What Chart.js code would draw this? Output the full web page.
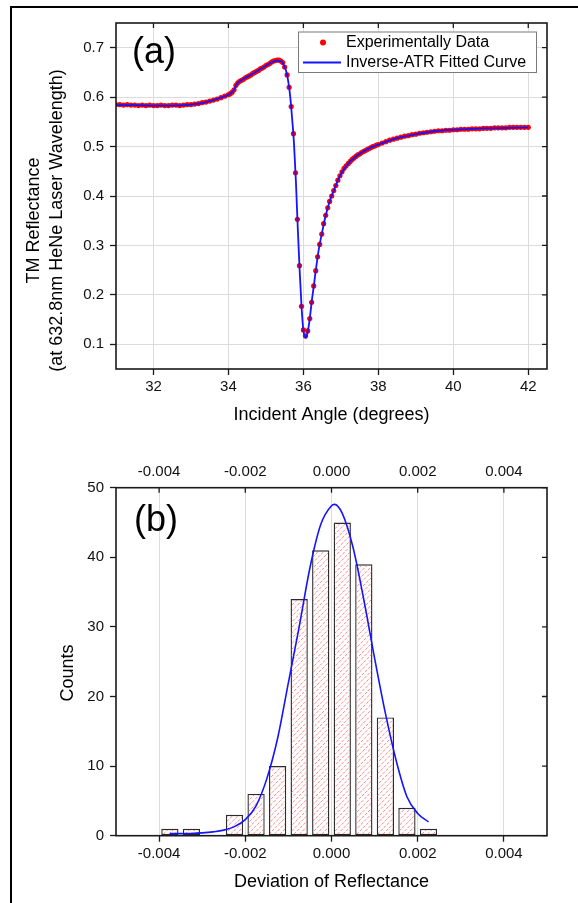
<!DOCTYPE html>
<html>
<head>
<meta charset="utf-8">
<script src="https://cdn.jsdelivr.net/npm/chart.js@4.4.0/dist/chart.umd.min.js"></script>
<style>
    html, body { margin: 0; padding: 0; background: #fff; overflow: hidden; }
    #page  { position: relative; width: 578px; height: 903px; }
    #frame { position: absolute; left: 10px; top: 6px; width: 600px; height: 950px;
             border-top: 2px solid #000; border-left: 2px solid #000; }
    #boxA  { position: absolute; left: 0; top: 0; width: 578px; height: 440px; }
    #boxB  { position: absolute; left: 0; top: 440px; width: 578px; height: 463px; }
    canvas { display: block; }
</style>
</head>
<body>
<div id="page">
    <div id="frame"></div>
    <div id="boxA"><canvas id="chartA" width="578" height="440"></canvas></div>
    <div id="boxB"><canvas id="chartB" width="578" height="463"></canvas></div>
</div>
<script>
/* ============================================================
   (a) TM 反射率 vs 入射角   (b) 偏差直方图
   ============================================================ */

// ---------- (a) 实验数据点 ----------
var expAngle = [
    31.0, 31.1, 31.2, 31.3, 31.4, 31.5, 31.6, 31.7, 31.8, 31.9,
    32.0, 32.1, 32.2, 32.3, 32.4, 32.5, 32.6, 32.7, 32.8, 32.9,
    33.0, 33.1, 33.2, 33.3, 33.4, 33.5, 33.6, 33.7, 33.8, 33.9,
    34.0, 34.05, 34.1, 34.15, 34.2, 34.25, 34.3, 34.35, 34.4, 34.45,
    34.5, 34.55, 34.6, 34.65, 34.7, 34.75, 34.8, 34.85, 34.9, 34.95,
    35.0, 35.05, 35.1, 35.15, 35.2, 35.25, 35.3, 35.35, 35.4, 35.45,
    35.5, 35.565, 35.62, 35.675, 35.735, 35.79, 35.84, 35.895, 35.95, 36.0,
    36.055, 36.115, 36.17, 36.22, 36.275, 36.33, 36.38, 36.435, 36.49, 36.54,
    36.595, 36.65, 36.7, 36.755, 36.81, 36.865, 36.92, 36.975, 37.03, 37.085,
    37.14, 37.2, 37.25, 37.3, 37.35, 37.4, 37.45, 37.5, 37.55, 37.6,
    37.65, 37.7, 37.75, 37.8, 37.85, 37.9, 37.95, 38.0, 38.1, 38.2,
    38.3, 38.4, 38.5, 38.6, 38.7, 38.8, 38.9, 39.0, 39.1, 39.2,
    39.3, 39.4, 39.5, 39.6, 39.7, 39.8, 39.9, 40.0, 40.1, 40.2,
    40.3, 40.4, 40.5, 40.6, 40.7, 40.8, 40.9, 41.0, 41.1, 41.2,
    41.3, 41.4, 41.5, 41.6, 41.7, 41.8, 41.9, 42.0
];
var expRefl = [
    0.585, 0.585, 0.584, 0.585, 0.584, 0.584, 0.583, 0.584, 0.583, 0.584,
    0.583, 0.583, 0.584, 0.583, 0.583, 0.584, 0.584, 0.583, 0.584, 0.585,
    0.585, 0.586, 0.587, 0.589, 0.590, 0.592, 0.594, 0.596, 0.599, 0.602,
    0.605, 0.607, 0.610, 0.615, 0.624, 0.629, 0.632, 0.634, 0.636, 0.639,
    0.641, 0.643, 0.645, 0.648, 0.650, 0.652, 0.654, 0.657, 0.659, 0.661,
    0.664, 0.666, 0.668, 0.671, 0.673, 0.674, 0.675, 0.675, 0.673, 0.670,
    0.661, 0.645, 0.620, 0.581, 0.526, 0.447, 0.353, 0.259, 0.177, 0.129,
    0.117, 0.127, 0.152, 0.185, 0.218, 0.249, 0.277, 0.302, 0.323, 0.344,
    0.361, 0.376, 0.389, 0.400, 0.411, 0.421, 0.432, 0.441, 0.449, 0.456,
    0.461, 0.466, 0.470, 0.474, 0.477, 0.480, 0.483, 0.485, 0.488, 0.490,
    0.492, 0.494, 0.496, 0.498, 0.500, 0.501, 0.503, 0.504, 0.507, 0.510,
    0.513, 0.515, 0.517, 0.519, 0.521, 0.522, 0.524, 0.525, 0.527, 0.528,
    0.529, 0.530, 0.531, 0.532, 0.532, 0.533, 0.533, 0.534, 0.534, 0.535,
    0.535, 0.535, 0.536, 0.536, 0.536, 0.537, 0.537, 0.537, 0.538, 0.538,
    0.538, 0.538, 0.539, 0.539, 0.539, 0.539, 0.539, 0.539
];

// ---------- (a) Inverse-ATR 拟合曲线 ----------
var fitAngle = [
    31.0, 31.5, 32.0, 32.5, 33.0, 33.3, 33.6, 33.8, 34.0, 34.1,
    34.15, 34.2, 34.25, 34.3, 34.5, 34.7, 34.9, 35.1, 35.2, 35.3,
    35.4, 35.45, 35.5, 35.55, 35.6, 35.65, 35.7, 35.75, 35.8, 35.85,
    35.9, 35.95, 36.0, 36.07, 36.12, 36.17, 36.22, 36.28, 36.33, 36.4,
    36.5, 36.6, 36.7, 36.8, 36.9, 37.0, 37.2, 37.4, 37.6, 37.8,
    38.0, 38.5, 39.0, 39.5, 40.0, 40.5, 41.0, 41.5, 42.0
];
var fitRefl = [
    0.584, 0.584, 0.583, 0.583, 0.585, 0.588, 0.594, 0.599, 0.605, 0.610,
    0.615, 0.623, 0.629, 0.632, 0.641, 0.650, 0.659, 0.668, 0.672, 0.674,
    0.673, 0.669, 0.661, 0.650, 0.630, 0.600, 0.556, 0.505, 0.430, 0.335,
    0.250, 0.177, 0.128, 0.113, 0.127, 0.152, 0.185, 0.219, 0.249, 0.287,
    0.327, 0.362, 0.389, 0.409, 0.428, 0.444, 0.466, 0.480, 0.490, 0.498,
    0.504, 0.517, 0.525, 0.531, 0.534, 0.536, 0.537, 0.538, 0.539
];

var angleTickLabels = ["32", "34", "36", "38", "40", "42"];
var reflTickLabels  = ["0.1", "0.2", "0.3", "0.4", "0.5", "0.6", "0.7"];

// ---------- (b) 直方图 ----------
var binCenter = [-0.00375, -0.00325, -0.00275, -0.00225, -0.00175, -0.00125, -0.00075,
                 -0.00025, 0.00025, 0.00075, 0.00125, 0.00175, 0.00225];
var binCount  = [1, 1, 0, 3, 6, 10, 34, 41, 45, 39, 17, 4, 1];

// 高斯拟合曲线（从图上读出的点）
var gaussX = [-0.00375, -0.0035, -0.00325, -0.003, -0.00275, -0.0025, -0.00225, -0.002,
              -0.00175, -0.0015, -0.00125, -0.001, -0.00075, -0.0005, -0.00025, 0,
              0.00007, 0.00025, 0.0005, 0.00075, 0.001, 0.00125, 0.0015, 0.00175,
              0.002, 0.00225];
var gaussY = [0.3, 0.3, 0.32, 0.4, 0.55, 0.8, 1.3, 2.3,
              4.3, 8.2, 14, 22, 30, 38.5, 44.7, 47.4,
              47.6, 46.3, 41.4, 33.9, 25.5, 17.6, 10.8, 5.6,
              3.2, 2.0];

var devTickLabels   = ["-0.004", "-0.002", "0.000", "0.002", "0.004"];
var countTickLabels = ["0", "10", "20", "30", "40", "50"];


// ============================================================
// 通用
// ============================================================

var FONT = '"Liberation Sans", Arial, sans-serif';
Chart.defaults.font.family = FONT;
Chart.defaults.color = "#111";

function zip(xs, ys) {
    return xs.map(function (x, i) { return { x: x, y: ys[i] }; });
}

// 刻度值 -> 文字（只在主刻度上显示）
function reflLabel(v)  { var s = (Math.round(v * 20) / 20).toFixed(2); s = s.slice(0, -1); return reflTickLabels.indexOf(s) >= 0 && Math.round(v * 20) % 2 === 0 ? s : null; }
function angleLabel(v) { var s = String(Math.round(v)); return angleTickLabels.indexOf(s) >= 0 ? s : null; }
function devLabel(v)   { var k = Math.round(v * 1000); var s = (k / 1000).toFixed(3); if (k === 0) s = "0.000"; return devTickLabels.indexOf(s) >= 0 ? s : null; }
function countLabel(v) { var s = String(Math.round(v)); return countTickLabels.indexOf(s) >= 0 ? s : null; }

function gridColor(fn) {
    return function (c) { return c.tick && fn(c.tick.value) ? "#dcdcdc" : "#cfcfcf"; };
}
function gridDash(fn) {
    return function (c) { return c.tick && !fn(c.tick.value) ? [1.5, 2] : []; };
}

// 斜线填充（直方图柱子）：画在柱子上面
var hatchFill = {
    id: "hatchFill",
    afterDatasetDraw: function (chart, args, o) {
        var meta = args.meta;
        if (meta.type !== "bar") return;
        var ctx = chart.ctx;
        ctx.save();
        ctx.strokeStyle = o.color;
        ctx.lineWidth = 0.9;
        ctx.setLineDash([3, 1.5]);
        meta.data.forEach(function (bar) {
            var p = bar.getProps(["x", "y", "base", "width"], true);
            var l = p.x - p.width / 2 + 1, r = p.x + p.width / 2 - 1;
            var t = Math.min(p.y, p.base) + 1, b = Math.max(p.y, p.base) - 1;
            if (b - t < 2) return;
            ctx.save();
            ctx.beginPath();
            ctx.rect(l, t, r - l, b - t);
            ctx.clip();
            ctx.beginPath();
            for (var k = l - (b - t); k < r; k += o.gap) {
                ctx.moveTo(k, b);
                ctx.lineTo(k + (b - t), t);
            }
            ctx.stroke();
            ctx.restore();
        });
        ctx.restore();
    }
};

// 轴框 + 上/右内向刻度 + 面板字母 + 纵轴标题 + 图例
var panelDecor = {
    id: "panelDecor",
    afterDraw: function (chart, args, o) {
        var ctx = chart.ctx, a = chart.chartArea;
        var xs = chart.scales.x, ys = chart.scales.y;
        ctx.save();

        ctx.strokeStyle = "#1a1a1a";
        ctx.lineWidth = 1.3;
        ctx.beginPath();
        xs.ticks.forEach(function (t) {
            var px = xs.getPixelForValue(t.value);
            ctx.moveTo(px, a.top);
            ctx.lineTo(px, a.top + o.tickIn);
        });
        ys.ticks.forEach(function (t) {
            var py = ys.getPixelForValue(t.value);
            ctx.moveTo(a.right, py);
            ctx.lineTo(a.right - o.tickIn, py);
        });
        ctx.stroke();

        ctx.lineWidth = 1.6;
        ctx.strokeRect(a.left, a.top, a.right - a.left, a.bottom - a.top);

        // (a) / (b)
        ctx.fillStyle = "#000";
        ctx.textAlign = "center";
        ctx.textBaseline = "middle";
        ctx.font = "36px " + FONT;
        ctx.fillText(o.label, o.labelX, o.labelY);

        // 图例
        if (o.legend) {
            var L = o.legend;
            var ds = chart.data.datasets;
            ctx.fillStyle = "#fff";
            ctx.fillRect(L.x, L.y, L.w, L.h);
            ctx.strokeStyle = "#7a7a7a";
            ctx.lineWidth = 1;
            ctx.strokeRect(L.x + 0.5, L.y + 0.5, L.w, L.h);

            ctx.fillStyle = ds[1].pointBackgroundColor;
            ctx.beginPath();
            ctx.arc(L.x + 25, L.y + 11, 3, 0, Math.PI * 2);
            ctx.fill();

            ctx.strokeStyle = ds[0].borderColor;
            ctx.lineWidth = 2;
            ctx.beginPath();
            ctx.moveTo(L.x + 5, L.y + 31);
            ctx.lineTo(L.x + 43, L.y + 31);
            ctx.stroke();

            ctx.fillStyle = "#000";
            ctx.textAlign = "left";
            ctx.font = "16px " + FONT;
            ctx.fillText(ds[1].label, L.x + 48, L.y + 11);
            ctx.fillText(ds[0].label, L.x + 48, L.y + 31);
        }

        // 纵轴标题（Origin 风格，位置略偏下）
        ctx.fillStyle = "#000";
        ctx.textAlign = "center";
        ctx.font = "18px " + FONT;
        ctx.translate(o.yTitleX, o.yTitleY);
        ctx.rotate(-Math.PI / 2);
        o.yTitle.forEach(function (line, i) {
            ctx.fillText(line, 0, i * 23);
        });

        ctx.restore();
    }
};


// ============================================================
// (a) 反射率曲线
// ============================================================

function isMajorAngle(v) { return Math.round(v) % 2 === 0; }
function isMajorRefl(v)  { return Math.round(v * 20) % 2 === 0; }

new Chart(document.getElementById("chartA"), {
    type: "scatter",
    data: {
        datasets: [
            {
                label: "Inverse-ATR Fitted Curve",
                data: zip(fitAngle, fitRefl),
                showLine: true,
                borderColor: "#1414ff",
                borderWidth: 1.8,
                pointRadius: 0,
                cubicInterpolationMode: "monotone",
                order: 0
            },
            {
                label: "Experimentally Data",
                data: zip(expAngle, expRefl),
                showLine: false,
                pointRadius: 2.6,
                pointBorderWidth: 0,
                pointBackgroundColor: "#ff0000",
                order: 1
            }
        ]
    },
    options: {
        responsive: false,
        animation: false,
        layout: { padding: { left: 0, right: 31, top: 23, bottom: 0 } },
        plugins: {
            legend: { display: false },
            tooltip: { enabled: false },
            panelDecor: {
                tickIn: 5,
                label: "(a)", labelX: 154, labelY: 53,
                legend: { x: 298, y: 31.5, w: 238, h: 40.5 },
                yTitle: ["TM Reflectance", "(at 632.8nm HeNe Laser Wavelength)"],
                yTitleX: 34, yTitleY: 220.5
            }
        },
        scales: {
            x: {
                type: "linear",
                min: 31, max: 42.5,
                afterFit: function (s) { s.height = 71; },
                ticks: {
                    stepSize: 1, includeBounds: false, autoSkip: false, maxRotation: 0,
                    padding: 3, font: { size: 15 }, color: "#111",
                    callback: function (v) { return angleLabel(v); }
                },
                grid: {
                    color: gridColor(isMajorAngle), lineWidth: 1,
                    tickLength: 6, tickColor: "#1a1a1a", tickWidth: 1.3, tickBorderDash: []
                },
                border: { display: false, dash: gridDash(isMajorAngle) },
                title: {
                    display: true, text: "Incident Angle (degrees)", color: "#000",
                    font: { size: 18 }, padding: { top: 0, bottom: 14 }
                }
            },
            y: {
                type: "linear",
                min: 0.05, max: 0.75,
                afterFit: function (s) { s.width = 116; },
                ticks: {
                    stepSize: 0.05, includeBounds: false, autoSkip: false,
                    padding: 6, font: { size: 15 }, color: "#111",
                    callback: function (v) { return reflLabel(v); }
                },
                grid: {
                    color: gridColor(isMajorRefl), lineWidth: 1,
                    tickLength: 6, tickColor: "#1a1a1a", tickWidth: 1.3, tickBorderDash: []
                },
                border: { display: false, dash: gridDash(isMajorRefl) }
            }
        }
    },
    plugins: [panelDecor]
});


// ============================================================
// (b) 偏差直方图 + 高斯拟合
// ============================================================

function isMajorDev(v)   { return Math.round(v * 1000) % 2 === 0; }
function isMajorCount(v) { return Math.round(v) % 10 === 0; }

new Chart(document.getElementById("chartB"), {
    type: "bar",
    data: {
        datasets: [
            {
                type: "line",
                label: "Gauss Fit",
                data: zip(gaussX, gaussY),
                borderColor: "#1414ff",
                borderWidth: 1.6,
                pointRadius: 0,
                cubicInterpolationMode: "monotone",
                order: 0
            },
            {
                type: "bar",
                label: "Counts",
                data: zip(binCenter, binCount),
                backgroundColor: "#ffffff",
                borderColor: "#2a2a2a",
                borderWidth: 1.4,
                borderSkipped: false,
                barPercentage: 0.8,
                categoryPercentage: 1,
                order: 1
            }
        ]
    },
    options: {
        responsive: false,
        animation: false,
        layout: { padding: { left: 0, right: 31, top: 0, bottom: 0 } },
        plugins: {
            legend: { display: false },
            tooltip: { enabled: false },
            hatchFill: { color: "#ff7878", gap: 5.5 },
            panelDecor: {
                tickIn: 5,
                label: "(b)", labelX: 156, labelY: 81,
                legend: null,
                yTitle: ["Counts"],
                yTitleX: 68, yTitleY: 233
            }
        },
        scales: {
            x: {
                type: "linear",
                position: "bottom",
                min: -0.005, max: 0.005,
                offset: false,
                afterFit: function (s) { s.height = 67.3; },
                ticks: {
                    stepSize: 0.001, includeBounds: false, autoSkip: false, maxRotation: 0,
                    padding: 3, font: { size: 15 }, color: "#111",
                    callback: function (v) { return devLabel(v); }
                },
                grid: {
                    offset: false,
                    color: gridColor(isMajorDev), lineWidth: 1,
                    tickLength: 6, tickColor: "#1a1a1a", tickWidth: 1.3, tickBorderDash: []
                },
                border: { display: false, dash: gridDash(isMajorDev) },
                title: {
                    display: true, text: "Deviation of Reflectance", color: "#000",
                    font: { size: 18 }, padding: { top: 0, bottom: 10.5 }
                }
            },
            x2: {
                type: "linear",
                position: "top",
                min: -0.005, max: 0.005,
                offset: false,
                afterFit: function (s) { s.height = 47.7; },
                ticks: {
                    stepSize: 0.001, includeBounds: false, autoSkip: false, maxRotation: 0,
                    padding: 7, font: { size: 15 }, color: "#111",
                    callback: function (v) { return devLabel(v); }
                },
                grid: { display: false, drawTicks: false, offset: false },
                border: { display: false }
            },
            y: {
                type: "linear",
                min: 0, max: 50,
                afterFit: function (s) { s.width = 116; },
                ticks: {
                    stepSize: 5, includeBounds: false, autoSkip: false,
                    padding: 6, font: { size: 15 }, color: "#111",
                    callback: function (v) { return countLabel(v); }
                },
                grid: {
                    drawOnChartArea: false,
                    tickLength: 6, tickWidth: 1.3, tickBorderDash: [],
                    tickColor: function (c) { return c.tick && isMajorCount(c.tick.value) ? "#1a1a1a" : "rgba(0,0,0,0)"; }
                },
                border: { display: false }
            }
        }
    },
    plugins: [hatchFill, panelDecor]
});
</script>
</body>
</html>
